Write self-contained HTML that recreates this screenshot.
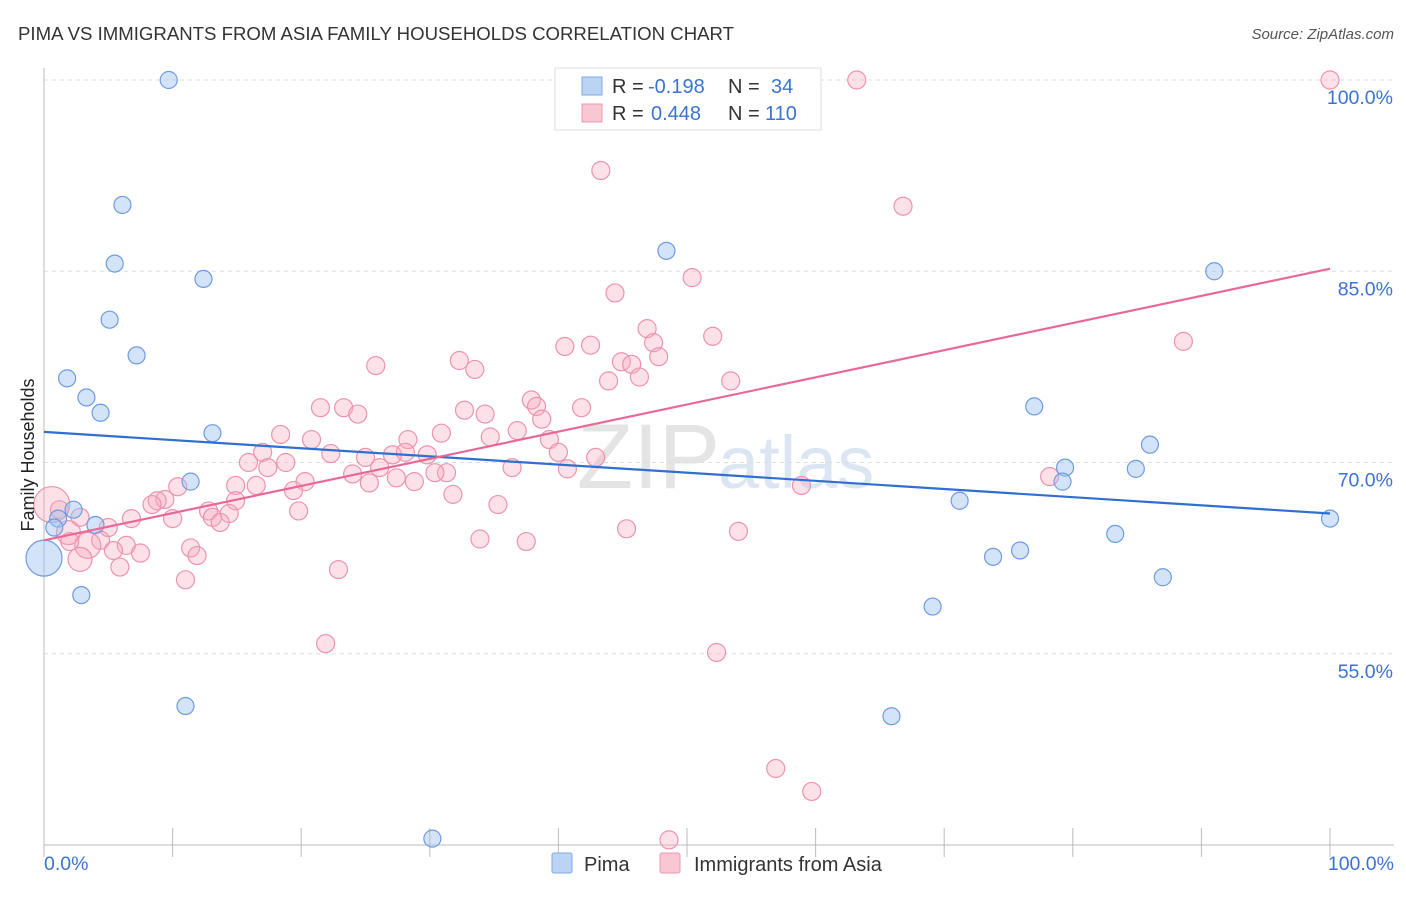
<!DOCTYPE html>
<html><head><meta charset="utf-8"><style>
body{margin:0;background:#fff;font-family:"Liberation Sans",sans-serif}
svg text{font-family:"Liberation Sans",sans-serif}
</style></head><body>
<svg id="c" width="1406" height="892" xmlns="http://www.w3.org/2000/svg">
<text x="18" y="40" font-size="18" fill="#333" textLength="716" lengthAdjust="spacingAndGlyphs">PIMA VS IMMIGRANTS FROM ASIA FAMILY HOUSEHOLDS CORRELATION CHART</text>
<text x="1394" y="39" font-size="15" fill="#555" text-anchor="end" font-style="italic">Source: ZipAtlas.com</text>
<text x="720" y="488" font-size="92" fill="#e4e4e4" text-anchor="end" font-family="Liberation Serif">ZIP</text>
<text x="718" y="488" font-size="74" fill="#dce6f3">atlas</text>
<g id="grid"></g><g id="axes"></g><g id="pts"></g><g id="trend"></g>
<text x="-455" y="34" transform="rotate(-90)" font-size="18" fill="#222" text-anchor="middle">Family Households</text>
<g>
<rect x="555" y="68" width="266" height="62" fill="#fff" stroke="#ddd"/>
<rect x="582" y="77" width="20" height="18" fill="#bcd4f4" stroke="#7ea8e0"/>
<rect x="582" y="104" width="20" height="18" fill="#f9c6d4" stroke="#ee99b2"/>
<text x="612" y="93" font-size="20" fill="#333">R = <tspan fill="#3b73d1" x="648">-0.198</tspan><tspan x="728">N = </tspan><tspan fill="#3b73d1" x="771">34</tspan></text>
<text x="612" y="120" font-size="20" fill="#333">R = <tspan fill="#3b73d1" x="651">0.448</tspan><tspan x="728">N = </tspan><tspan fill="#3b73d1" x="765">110</tspan></text>
</g>
<g>
<rect x="552" y="853" width="20" height="20" fill="#bcd4f4" stroke="#7ea8e0" rx="2"/>
<text x="584" y="871" font-size="20" fill="#333">Pima</text>
<rect x="660" y="853" width="20" height="20" fill="#f9c6d4" stroke="#ee99b2" rx="2"/>
<text x="694" y="871" font-size="20" fill="#333">Immigrants from Asia</text>
</g>
</svg>
<script>
const yTicks=[100,85,70,55];
const xTickLabels=["0.0%","100.0%"];
const pimaX=[9.7,6.1,5.5,12.4,5.1,7.2,1.8,3.3,4.4,13.1,11.4,2.3,1.1,0.8,4.0,0,2.9,11.0,30.2,48.4,91.0,77.0,86.0,79.4,84.9,79.2,71.2,100,83.3,75.9,73.8,87.0,69.1,65.9];
const pimaY=[100,90.2,85.6,84.4,81.2,78.4,76.6,75.1,73.9,72.3,68.5,66.3,65.6,64.9,65.1,62.5,59.6,50.9,40.5,86.6,85.0,74.4,71.4,69.6,69.5,68.5,67.0,65.6,64.4,63.1,62.6,61.0,58.7,50.1];
const asiaX=[63.2,100,43.3,66.8,50.4,44.4,46.9,52.0,88.6,40.5,42.5,47.4,47.8,44.9,45.7,25.8,32.3,33.5,43.9,46.3,53.4,37.9,38.3,21.5,23.3,24.4,32.7,34.3,41.8,38.7,36.8,34.7,18.4,20.8,28.3,30.9,39.3,22.3,25.0,17.0,27.1,28.1,29.8,40.0,15.9,18.8,17.4,24.0,26.1,36.4,42.9,40.7,27.4,28.8,31.3,30.4,25.3,16.5,14.9,20.3,19.4,10.4,9.4,8.8,8.4,14.9,31.8,12.8,14.4,6.8,10.0,13.1,13.7,35.3,19.8,78.2,58.9,5.0,2.8,1.2,0.6,1.9,4.4,3.4,6.4,11.4,7.5,2.8,5.9,11.9,11.0,45.3,54.0,33.9,37.5,22.9,21.9,52.3,56.9,59.7,48.6,2.0,5.4];
const asiaY=[100,100,92.9,90.1,84.5,83.3,80.5,79.9,79.5,79.1,79.2,79.4,78.3,77.9,77.7,77.6,78.0,77.3,76.4,76.7,76.4,74.9,74.4,74.3,74.3,73.8,74.1,73.8,74.3,73.4,72.5,72.0,72.2,71.8,71.8,72.3,71.8,70.7,70.4,70.8,70.6,70.8,70.6,70.8,70.0,70.0,69.6,69.1,69.6,69.6,70.4,69.5,68.8,68.5,69.2,69.2,68.4,68.2,68.2,68.5,67.8,68.1,67.1,67.0,66.7,67.0,67.5,66.2,66.0,65.6,65.6,65.7,65.3,66.7,66.2,68.9,68.2,64.9,65.7,66.3,66.7,64.5,63.9,63.5,63.5,63.3,62.9,62.4,61.8,62.7,60.8,64.8,64.6,64.0,63.8,61.6,55.8,55.1,46.0,44.2,40.4,63.8,63.1];
const pimaTrend=[72.4,66.0];
const asiaTrend=[63.9,85.2];
const X=v=>44+v*12.86, Y=v=>80+(100-v)*12.75;
const NS="http://www.w3.org/2000/svg";
function mk(tag,attrs,parent){const e=document.createElementNS(NS,tag);for(const k in attrs)e.setAttribute(k,attrs[k]);document.getElementById(parent).appendChild(e);return e;}
yTicks.forEach(t=>{
 const l=mk('line',{x1:44,x2:1394,y1:Y(t),y2:Y(t),stroke:'#ddd','stroke-dasharray':'4,4'},'grid');
 
 
 const tx=mk('text',{x:1393,y:Y(t)+24,'font-size':19.5,fill:'#3b73d1','text-anchor':'end'},'grid');
 tx.textContent=t.toFixed(1)+'%';
 
 
});
const ya=mk('line',{x1:44,x2:44,y1:68,y2:845,stroke:'#bbb'},'axes');


const xa=mk('line',{x1:44,x2:1394,y1:845,y2:845,stroke:'#bbb'},'axes');


for(let i=0;i<=10;i++){const t=mk('line',{x1:X(i*10),x2:X(i*10),y1:828,y2:857,stroke:'#bbb'},'axes');
 
 }
[[0,'start',44],[100,'end',1394]].forEach((d,i)=>{const t=mk('text',{x:d[2],y:870,'font-size':19.5,fill:'#3b73d1','text-anchor':d[1]},'axes');t.textContent=xTickLabels[i];
 
 });
const big={80:18,83:13,81:12,87:12};
asiaX.forEach((x,i)=>{const c=mk('circle',{cx:X(x),cy:Y(asiaY[i]),r:big[i]||9,fill:'rgba(246,170,192,0.35)',stroke:'#ee93ad','stroke-width':1.2},'pts');
 
 });
pimaX.forEach((x,i)=>{const c=mk('circle',{cx:X(x),cy:Y(pimaY[i]),r:i==15?18:8.5,fill:'rgba(160,195,240,0.45)',stroke:'#6f9be0','stroke-width':1.2},'pts');
 
 });
const t1=mk('line',{x1:X(0),y1:Y(pimaTrend[0]),x2:X(100),y2:Y(pimaTrend[1]),stroke:'#2f6fd0','stroke-width':2.2},'trend');


const t2=mk('line',{x1:X(0),y1:Y(asiaTrend[0]),x2:X(100),y2:Y(asiaTrend[1]),stroke:'#e8689a','stroke-width':2.2},'trend');


</script>
</body></html>
